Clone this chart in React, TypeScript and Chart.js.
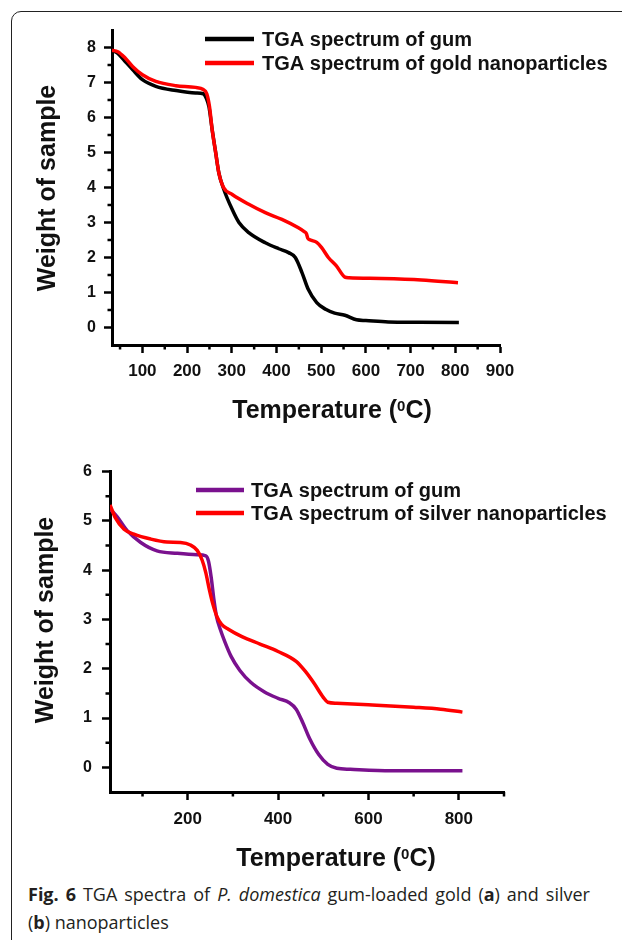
import React, { useEffect, useRef } from 'react';
import { Chart, registerables } from 'chart.js';

Chart.register(...registerables);

const FONT = '"Liberation Sans", Arial, Helvetica, sans-serif';

// ---------- Panel (a): gum-loaded gold ----------
const goldGumTemps = [32, 45, 60, 78, 100, 130, 175, 219, 236, 243, 249, 256, 264, 271, 282, 301, 316, 338, 375, 405, 427, 442, 457, 471, 490, 510, 530, 553, 579, 600, 650, 720, 808];
const goldGumWeights = [7.92, 7.83, 7.62, 7.37, 7.08, 6.89, 6.77, 6.7, 6.68, 6.55, 6.3, 5.66, 4.99, 4.42, 3.95, 3.37, 3.0, 2.71, 2.42, 2.25, 2.14, 2.0, 1.57, 1.09, 0.71, 0.52, 0.41, 0.35, 0.22, 0.2, 0.16, 0.15, 0.14];
const goldNpTemps = [32, 45, 60, 78, 100, 130, 175, 219, 236, 244, 250, 256, 264, 271, 282, 301, 338, 375, 412, 449, 462, 467, 470, 476, 490, 501, 516, 534, 553, 562, 635, 724, 806];
const goldNpWeights = [7.92, 7.88, 7.72, 7.46, 7.22, 7.03, 6.91, 6.86, 6.8, 6.68, 6.32, 5.66, 4.99, 4.42, 3.99, 3.8, 3.52, 3.28, 3.09, 2.85, 2.74, 2.68, 2.55, 2.5, 2.43, 2.28, 2.0, 1.76, 1.44, 1.42, 1.4, 1.36, 1.28];
const goldXMajor = [100, 200, 300, 400, 500, 600, 700, 800, 900];
const goldXMinor = [50, 150, 250, 350, 450, 550, 650, 750, 850];
const goldYMajor = [0, 1, 2, 3, 4, 5, 6, 7, 8];
const goldYMinor = [0.5, 1.5, 2.5, 3.5, 4.5, 5.5, 6.5, 7.5];

// ---------- Panel (b): gum-loaded silver ----------
const silverGumTemps = [28, 44, 66, 96, 132, 177, 221, 240, 246, 252, 258, 264, 272, 282, 296, 315, 340, 370, 400, 425, 440, 455, 470, 490, 510, 530, 560, 650, 808];
const silverGumWeights = [5.24, 5.08, 4.8, 4.56, 4.39, 4.34, 4.31, 4.29, 4.18, 3.85, 3.4, 3.05, 2.8, 2.55, 2.25, 1.97, 1.72, 1.53, 1.4, 1.31, 1.18, 0.9, 0.58, 0.26, 0.06, -0.02, -0.04, -0.07, -0.07];
const silverNpTemps = [28, 40, 59, 81, 118, 154, 184, 206, 221, 232, 240, 248, 256, 265, 275, 290, 320, 360, 400, 440, 460, 480, 500, 510, 530, 600, 700, 760, 808];
const silverNpWeights = [5.32, 5.06, 4.83, 4.73, 4.63, 4.57, 4.56, 4.51, 4.4, 4.2, 3.95, 3.6, 3.3, 3.05, 2.9, 2.8, 2.65, 2.5, 2.35, 2.15, 1.95, 1.7, 1.42, 1.32, 1.3, 1.27, 1.22, 1.18, 1.12];
const silverXMajor = [200, 400, 600, 800];
const silverXMinor = [100, 300, 500, 700, 900];
const silverYMajor = [0, 1, 2, 3, 4, 5, 6];
const silverYMinor = [0.5, 1.5, 2.5, 3.5, 4.5, 5.5];

const LEGEND_GUM = 'TGA spectrum of gum';
const LEGEND_GOLD = 'TGA spectrum of gold nanoparticles';
const LEGEND_SILVER = 'TGA spectrum of silver nanoparticles';
const X_TITLE_MAIN = 'Temperature (';
const X_TITLE_SUP = '0';
const X_TITLE_END = 'C)';
const Y_TITLE = 'Weight of sample';

function pts(xs: number[], ys: number[]) {
  return xs.map((x, i) => ({ x, y: ys[i] }));
}

const decorPlugin = {
  id: 'decor',
  afterDraw(chart: any, _args: any, opts: any) {
    const ctx = chart.ctx as CanvasRenderingContext2D;
    const xs = chart.scales.x;
    const ys = chart.scales.y;
    ctx.save();
    // minor ticks
    ctx.strokeStyle = '#000';
    ctx.lineWidth = 2.5;
    ctx.beginPath();
    for (const v of opts.xMinor) {
      const p = xs.getPixelForValue(v);
      ctx.moveTo(p, xs.top);
      ctx.lineTo(p, xs.top + opts.minorLen);
    }
    for (const v of opts.yMinor) {
      const p = ys.getPixelForValue(v);
      ctx.moveTo(ys.right, p);
      ctx.lineTo(ys.right - opts.minorLen, p);
    }
    ctx.stroke();

    // legend inside plot area
    const lg = opts.legend;
    chart.data.datasets.forEach((ds: any, i: number) => {
      const y = lg.rows[i];
      ctx.strokeStyle = ds.borderColor;
      ctx.lineWidth = 4.5;
      ctx.beginPath();
      ctx.moveTo(lg.x, y - 1);
      ctx.lineTo(lg.x + lg.lineLen, y - 1);
      ctx.stroke();
      ctx.fillStyle = '#111';
      ctx.font = `bold ${lg.size}px ${FONT}`;
      ctx.textAlign = 'left';
      ctx.textBaseline = 'middle';
      ctx.fillText(ds.label, lg.textX, y);
    });

    // x title with superscript
    const xt = opts.xTitle;
    const big = xt.size;
    const small = Math.round(big * 0.6);
    ctx.fillStyle = '#111';
    ctx.textBaseline = 'alphabetic';
    ctx.textAlign = 'left';
    ctx.font = `bold ${big}px ${FONT}`;
    const w1 = ctx.measureText(X_TITLE_MAIN).width;
    const w3 = ctx.measureText(X_TITLE_END).width;
    ctx.font = `bold ${small}px ${FONT}`;
    const w2 = ctx.measureText(X_TITLE_SUP).width;
    const total = w1 + w2 + w3;
    const base = xt.cy + big * 0.716 / 2;
    let cx = xt.cx - total / 2;
    ctx.font = `bold ${big}px ${FONT}`;
    ctx.fillText(X_TITLE_MAIN, cx, base);
    cx += w1;
    ctx.font = `bold ${small}px ${FONT}`;
    ctx.fillText(X_TITLE_SUP, cx, base - big * 0.716 + small * 0.716);
    cx += w2;
    ctx.font = `bold ${big}px ${FONT}`;
    ctx.fillText(X_TITLE_END, cx, base);

    // y title rotated
    const yt = opts.yTitle;
    ctx.translate(yt.cx, yt.cy);
    ctx.rotate(-Math.PI / 2);
    ctx.font = `bold ${yt.size}px ${FONT}`;
    ctx.textAlign = 'center';
    ctx.textBaseline = 'middle';
    ctx.fillText(Y_TITLE, 0, 0);
    ctx.restore();
  },
};

type PanelProps = {
  top: number;
  height: number;
  datasets: any[];
  xRange: [number, number];
  yRange: [number, number];
  xMajor: number[];
  xMinor: number[];
  yMajor: number[];
  yMinor: number[];
  padding: { top: number; right: number };
  yAxisWidth: number;
  xAxisHeight: number;
  yTickPad: number;
  xTickPad: number;
  legend: any;
  xTitle: any;
  yTitle: any;
};

function TgaPanel(p: PanelProps) {
  const ref = useRef<HTMLCanvasElement | null>(null);
  useEffect(() => {
    if (!ref.current) return;
    const grid = {
      display: true,
      drawOnChartArea: false,
      drawTicks: true,
      tickLength: 8,
      tickWidth: 2.5,
      tickColor: '#000',
    };
    const border = { display: true, color: '#000', width: 3 };
    const chart = new Chart(ref.current, {
      type: 'line',
      data: { datasets: p.datasets },
      plugins: [decorPlugin],
      options: {
        responsive: false,
        animation: false,
        devicePixelRatio: 1,
        layout: { padding: { top: p.padding.top, right: p.padding.right, left: 0, bottom: 0 } },
        elements: { point: { radius: 0 } },
        scales: {
          x: {
            type: 'linear',
            min: p.xRange[0],
            max: p.xRange[1],
            grid,
            border,
            ticks: {
              includeBounds: false,
              padding: p.xTickPad,
              color: '#111',
              font: { family: FONT, size: 17, weight: 'bold' },
              maxRotation: 0,
              autoSkip: false,
            },
            afterBuildTicks: (s: any) => {
              s.ticks = p.xMajor.map((v) => ({ value: v }));
            },
            afterFit: (s: any) => {
              s.height = p.xAxisHeight;
            },
          },
          y: {
            type: 'linear',
            min: p.yRange[0],
            max: p.yRange[1],
            grid,
            border,
            ticks: {
              includeBounds: false,
              padding: p.yTickPad,
              color: '#111',
              font: { family: FONT, size: 16, weight: 'bold' },
              autoSkip: false,
            },
            afterBuildTicks: (s: any) => {
              s.ticks = p.yMajor.map((v) => ({ value: v }));
            },
            afterFit: (s: any) => {
              s.width = p.yAxisWidth;
            },
          },
        },
        plugins: {
          legend: { display: false },
          tooltip: { enabled: false },
          decor: {
            xMinor: p.xMinor,
            yMinor: p.yMinor,
            minorLen: 4.5,
            legend: p.legend,
            xTitle: p.xTitle,
            yTitle: p.yTitle,
          },
        } as any,
      } as any,
    });
    return () => chart.destroy();
  }, []);
  return (
    <canvas
      ref={ref}
      width={622}
      height={p.height}
      style={{ position: 'absolute', left: 0, top: p.top, width: 622, height: p.height, display: 'block' }}
    />
  );
}

const lineStyle = {
  borderWidth: 3.5,
  pointRadius: 0,
  fill: false,
  cubicInterpolationMode: 'monotone',
};

export default function App() {
  const goldDatasets = [
    { ...lineStyle, label: LEGEND_GUM, data: pts(goldGumTemps, goldGumWeights), borderColor: '#000000', order: 1 },
    { ...lineStyle, label: LEGEND_GOLD, data: pts(goldNpTemps, goldNpWeights), borderColor: '#ff0000', order: 0 },
  ];
  const silverDatasets = [
    { ...lineStyle, label: LEGEND_GUM, data: pts(silverGumTemps, silverGumWeights), borderColor: '#7a118e', order: 1 },
    { ...lineStyle, label: LEGEND_SILVER, data: pts(silverNpTemps, silverNpWeights), borderColor: '#ff0000', order: 0 },
  ];
  const captionFont = {
    fontFamily: '"Open Sans", "Noto Sans", sans-serif',
    fontSize: 18,
    lineHeight: '28px',
    color: '#231f20',
    whiteSpace: 'nowrap' as const,
  };
  return (
    <div style={{ position: 'absolute', left: 0, top: 0, width: 622, height: 940, overflow: 'hidden', background: '#fff' }}>
      <div
        style={{
          position: 'absolute',
          left: 11,
          top: 11,
          width: 660,
          height: 980,
          border: '1.5px solid #222',
          borderRadius: 10,
          boxSizing: 'border-box',
        }}
      />
      <TgaPanel
        top={0}
        height={440}
        datasets={goldDatasets}
        xRange={[32, 900]}
        yRange={[-0.5, 8.5]}
        xMajor={goldXMajor}
        xMinor={goldXMinor}
        yMajor={goldYMajor}
        yMinor={goldYMinor}
        padding={{ top: 30, right: 122 }}
        yAxisWidth={112}
        xAxisHeight={95}
        yTickPad={8}
        xTickPad={8}
        legend={{ x: 205, lineLen: 49, textX: 262, rows: [40, 64], size: 20 }}
        xTitle={{ cx: 332, cy: 409, size: 25 }}
        yTitle={{ cx: 48.5, cy: 188, size: 25 }}
      />
      <TgaPanel
        top={440}
        height={440}
        datasets={silverDatasets}
        xRange={[28, 900]}
        yRange={[-0.5, 6]}
        xMajor={silverXMajor}
        xMinor={silverXMinor}
        yMajor={silverYMajor}
        yMinor={silverYMinor}
        padding={{ top: 31.5, right: 118 }}
        yAxisWidth={110}
        xAxisHeight={88}
        yTickPad={10}
        xTickPad={9}
        legend={{ x: 196, lineLen: 48, textX: 251, rows: [51, 74], size: 20 }}
        xTitle={{ cx: 336, cy: 417, size: 25 }}
        yTitle={{ cx: 46, cy: 180, size: 25 }}
      />
      <div style={{ ...captionFont, position: 'absolute', left: 28, top: 880, width: 562, textAlign: 'justify', textAlignLast: 'justify', whiteSpace: 'normal' }}>
        <b>Fig. 6</b> TGA spectra of <i>P. domestica</i> gum-loaded gold (<b>a</b>) and silver
      </div>
      <div style={{ ...captionFont, position: 'absolute', left: 28, top: 908 }}>
        (<b>b</b>) nanoparticles
      </div>
    </div>
  );
}
